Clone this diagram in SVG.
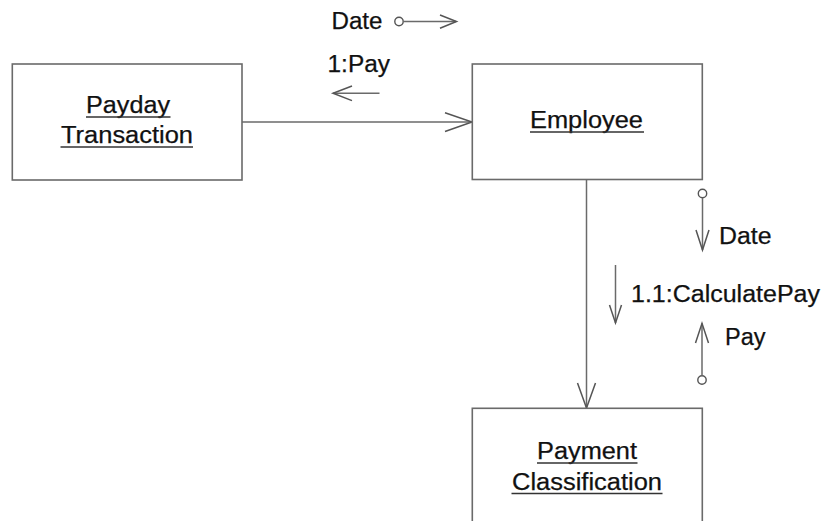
<svg xmlns="http://www.w3.org/2000/svg" width="825" height="521" viewBox="0 0 825 521">
<defs>
<style>
.box{fill:#fff;stroke:#6a6a6a;stroke-width:1.6}
.t{font-family:"Liberation Sans",Arial,sans-serif;font-size:23.5px;fill:#111;stroke:#111;stroke-width:0.25}
.ul{stroke:#333;stroke-width:1.5}
.ln{fill:none;stroke:#6a6a6a;stroke-width:1.5}
.ah{fill:none;stroke:#555;stroke-width:1.5;stroke-linejoin:miter}
.dot{fill:#fff;stroke:#555;stroke-width:1.4}
</style>
</defs>
<rect width="825" height="521" fill="#fff"/>
<g id="connectors">
<line class="ln" x1="242" y1="122" x2="472" y2="122"/>
<polyline class="ah" points="445,112.7 472,122 445,131.5"/>
<line class="ln" x1="586.5" y1="180" x2="586.5" y2="408"/>
<polyline class="ah" points="577.5,383 586.5,408 595.5,383"/>
</g>
<g id="messages">
<text class="t" x="331.5" y="28.5" textLength="51" lengthAdjust="spacingAndGlyphs">Date</text>
<circle class="dot" cx="399" cy="21.5" r="4.2"/>
<line class="ln" x1="403.2" y1="21.5" x2="456" y2="21.5"/>
<polyline class="ah" points="440,15 456.5,21.5 440,28.3"/>
<text class="t" x="327.5" y="72" textLength="62.5" lengthAdjust="spacingAndGlyphs">1:Pay</text>
<line class="ln" x1="379.5" y1="93.3" x2="333" y2="93.3"/>
<polyline class="ah" points="352,86 333,93.3 352,100.6"/>
<circle class="dot" cx="702.5" cy="193.5" r="4.2"/>
<line class="ln" x1="702.5" y1="197.7" x2="702.5" y2="250"/>
<polyline class="ah" points="696,230 702.5,250 709,230"/>
<text class="t" x="719" y="244" textLength="52.5" lengthAdjust="spacingAndGlyphs">Date</text>
<line class="ln" x1="615.5" y1="265" x2="615.5" y2="323"/>
<polyline class="ah" points="609.5,305 615.5,323 621.5,305"/>
<text class="t" x="631" y="301.7" textLength="189" lengthAdjust="spacingAndGlyphs">1.1:CalculatePay</text>
<circle class="dot" cx="702" cy="380" r="4.2"/>
<line class="ln" x1="702" y1="375.8" x2="702" y2="323.3"/>
<polyline class="ah" points="695.5,343 702,323.3 708.5,343"/>
<text class="t" x="725" y="344.5" textLength="40.5" lengthAdjust="spacingAndGlyphs">Pay</text>
</g>
<g id="payday-transaction">
<rect class="box" x="12.3" y="64" width="229.7" height="116"/>
<text class="t" x="86" y="112.5" textLength="84" lengthAdjust="spacingAndGlyphs">Payday</text>
<line class="ul" x1="86" y1="117" x2="170.5" y2="117"/>
<text class="t" x="61" y="143" textLength="132" lengthAdjust="spacingAndGlyphs">Transaction</text>
<line class="ul" x1="60.5" y1="147" x2="193" y2="147"/>
</g>
<g id="employee">
<rect class="box" x="472.3" y="64" width="230" height="115.5"/>
<text class="t" x="530" y="128" textLength="113" lengthAdjust="spacingAndGlyphs">Employee</text>
<line class="ul" x1="530" y1="132" x2="644" y2="132"/>
</g>
<g id="payment-classification">
<rect class="box" x="472.3" y="408.3" width="230" height="130"/>
<text class="t" x="537" y="459" textLength="100" lengthAdjust="spacingAndGlyphs">Payment</text>
<line class="ul" x1="537" y1="463" x2="637.5" y2="463"/>
<text class="t" x="512" y="489.5" textLength="150" lengthAdjust="spacingAndGlyphs">Classification</text>
<line class="ul" x1="511.5" y1="493.5" x2="662.5" y2="493.5"/>
</g>
</svg>
